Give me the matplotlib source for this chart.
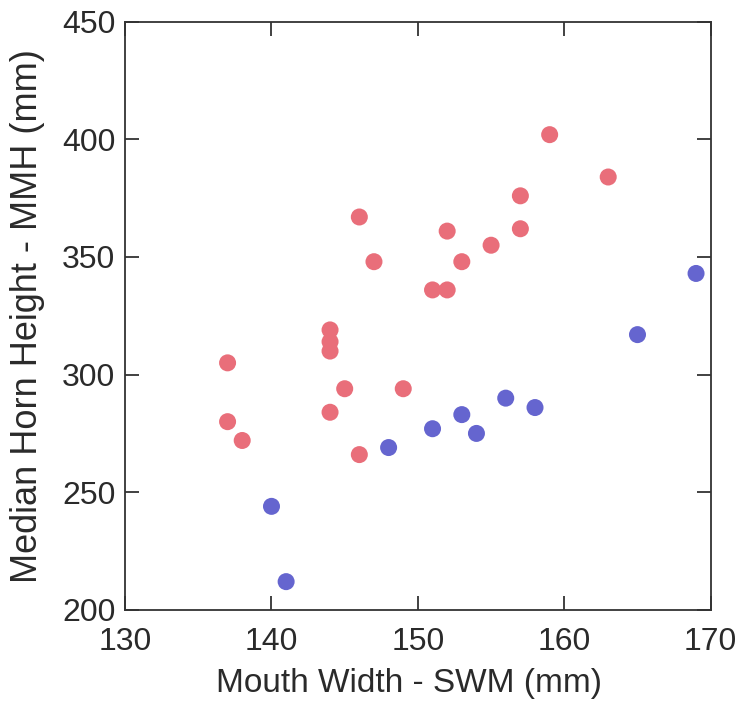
import matplotlib
matplotlib.use("Agg")
import matplotlib.pyplot as plt

red_x = [159, 163, 157, 146, 152, 157, 155, 147, 153, 151, 152,
         144, 144, 144, 137, 145, 149, 144, 137, 138, 146]
red_y = [402, 384, 376, 367, 361, 362, 355, 348, 348, 336, 336,
         319, 314, 310, 305, 294, 294, 284, 280, 272, 266]
blue_x = [169, 148, 151, 153, 154, 156, 158, 165, 140, 141]
blue_y = [343, 269, 277, 283, 275, 290, 286, 317, 244, 212]

xticks = [130, 140, 150, 160, 170]
yticks = [200, 250, 300, 350, 400, 450]

plt.rcParams['font.family'] = ['Liberation Sans', 'DejaVu Sans']
fig = plt.figure(figsize=(7.38, 7.01), dpi=100)
ax = fig.add_axes([0.1695, 0.130, 0.7935, 0.839])

ax.scatter(red_x, red_y, s=150, color='#E96E7A', edgecolors='none', zorder=3)
ax.scatter(blue_x, blue_y, s=150, color='#6565CF', edgecolors='none', zorder=3)

ax.set_xlim(130, 170)
ax.set_ylim(200, 450)
ax.set_xticks(xticks)
ax.set_yticks(yticks)
ax.tick_params(direction='in', length=10, width=1.3, top=True, right=True,
               labelsize=23, labelcolor='#2a2a2a', color='#333333')
ax.tick_params(axis='x', pad=12)
ax.tick_params(axis='y', pad=7)
for s in ax.spines.values():
    s.set_linewidth(1.3)
    s.set_color('#333333')
ax.set_xlabel('Mouth Width - SWM (mm)', fontsize=24, color='#2a2a2a', labelpad=7)
ax.xaxis.set_label_coords(0.485, -0.098)
ax.set_ylabel('Median Horn Height - MMH (mm)', fontsize=26, color='#2a2a2a', labelpad=12)

fig.savefig('out.png', dpi=100)
